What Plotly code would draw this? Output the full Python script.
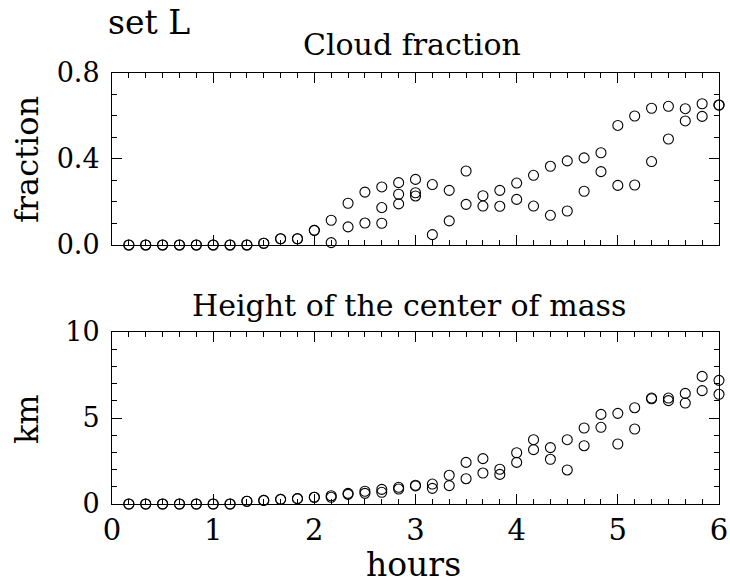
import plotly.graph_objects as go

# time in hours (every 10 minutes)
hours = [k / 6 for k in range(1, 37)]

cloud_a = [0, 0, 0, 0, 0, 0, 0, 0, 0.008, 0.029, 0.029, 0.068, 0.115, 0.194, 0.246, 0.270,
           0.290, 0.305, 0.281, 0.254, 0.344, 0.229, 0.254, 0.288, 0.324, 0.366, 0.391,
           0.405, 0.429, 0.556, 0.600, 0.636, 0.645, 0.634, 0.657, 0.651]
cloud_b = [0, 0, 0, 0, 0, 0, 0, 0, 0.008, 0.029, 0.029, 0.068, 0.011, 0.084, 0.102, 0.101,
           0.191, 0.228, 0.048, 0.112, 0.189, 0.181, 0.180, 0.212, 0.181, 0.138, 0.158,
           0.250, 0.341, 0.277, 0.279, 0.388, 0.493, 0.577, 0.598, 0.651]
cloud_c_hours = [16 / 6, 17 / 6, 18 / 6]
cloud_c = [0.174, 0.236, 0.243]

height_a = [0, 0, 0, 0, 0, 0, 0, 0.16, 0.21, 0.27, 0.31, 0.39, 0.48, 0.62, 0.74, 0.85,
            0.97, 1.09, 1.16, 1.67, 2.42, 2.64, 2.02, 2.98, 3.74, 3.28, 3.74, 4.42, 5.21,
            5.27, 5.60, 6.16, 6.16, 6.43, 7.42, 7.19]
height_b = [0, 0, 0, 0, 0, 0, 0, 0.16, 0.21, 0.27, 0.31, 0.39, 0.39, 0.56, 0.62, 0.68,
            0.87, 1.05, 0.91, 1.07, 1.47, 1.80, 1.72, 2.42, 3.16, 2.60, 1.98, 3.39, 4.46,
            3.49, 4.36, 6.12, 6.01, 5.87, 6.59, 6.38]

FONT = "DejaVu Serif"
marker = dict(symbol="circle-open", size=10, color="black", line=dict(width=1.1, color="black"))

fig = go.Figure()
for xs, ys, xa, ya in [(hours, cloud_a, "x", "y"), (hours, cloud_b, "x", "y"),
                       (cloud_c_hours, cloud_c, "x", "y"),
                       (hours, height_a, "x2", "y2"), (hours, height_b, "x2", "y2")]:
    fig.add_trace(go.Scatter(x=xs, y=ys, mode="markers", marker=marker, xaxis=xa, yaxis=ya,
                             cliponaxis=False, showlegend=False, hoverinfo="skip"))

common = dict(showline=True, linecolor="black", linewidth=1, mirror="allticks", ticks="inside",
              tickcolor="black", tickwidth=1, ticklen=10, showgrid=False, zeroline=False,
              automargin=False)

minor_x = dict(dtick=1 / 6, tick0=0, ticklen=5, ticks="inside", tickcolor="black", showgrid=False)

fig.update_layout(
    template="none",
    width=730, height=586,
    margin=dict(l=112, r=11, t=73, b=82),
    paper_bgcolor="white", plot_bgcolor="white",
    xaxis=dict(domain=[0, 1], range=[0, 6], dtick=1, tick0=0, anchor="y", showticklabels=False,
               minor=minor_x, **common),
    yaxis=dict(domain=[0.601, 1], range=[0, 0.8], dtick=0.4, tick0=0, tickformat=".1f", anchor="x",
               ticklabelstandoff=6, tickfont=dict(family=FONT, size=27, color="black"),
               minor=dict(dtick=0.1, tick0=0, ticklen=5, ticks="inside", tickcolor="black", showgrid=False),
               **common),
    xaxis2=dict(domain=[0, 1], range=[0, 6], dtick=1, tick0=0, anchor="y2", ticklabelstandoff=0,
                tickfont=dict(family=FONT, size=29, color="black"),
                minor=minor_x, **common),
    yaxis2=dict(domain=[0, 0.399], range=[0, 10], dtick=5, tick0=0, anchor="x2", ticklabelstandoff=6,
                tickfont=dict(family=FONT, size=27, color="black"),
                minor=dict(dtick=1, tick0=0, ticklen=5, ticks="inside", tickcolor="black", showgrid=False),
                **common),
)

def ann(text, x, y, size, xanchor="center", angle=0):
    fig.add_annotation(text=text, x=x, y=y, xref="paper", yref="paper", showarrow=False,
                       xanchor=xanchor, yanchor="middle", textangle=angle,
                       font=dict(family=FONT, size=size, color="black"))

ann("set L", -0.0099, 1.118, 33, xanchor="left")
ann("Cloud fraction", 0.494, 1.065, 30)
ann("Height of the center of mass", 0.489, 0.4617, 30)
ann("hours", 0.497, -0.1415, 33)
ann("fraction", -0.14, 0.798, 32, angle=-90)
ann("km", -0.14, 0.197, 32, angle=-90)

fig.write_html("out.html", config={"displayModeBar": False},
               post_script="document.body.style.margin='0';")
